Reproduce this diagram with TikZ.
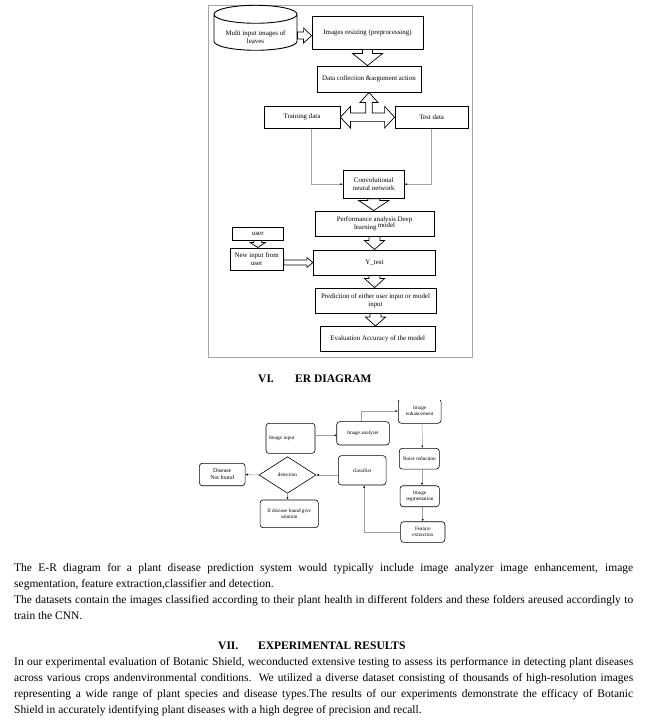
\documentclass[tikz,border=0pt]{standalone}
\usepackage{fontspec}
\setmainfont{Liberation Serif}
\usetikzlibrary{shapes.geometric,arrows.meta,calc}

\newcommand{\diagfont}{\fontsize{6.9}{8}\selectfont}
\newcommand{\erfont}{\fontsize{5.2}{6.2}\selectfont}
% hollow block arrow: from, to, shaft half width, head half width, head length
\newcommand{\blockarrow}[5]{%
  \draw[blockarr] let \p1=#1, \p2=#2, \n1={atan2(\y2-\y1,\x2-\x1)}, \n2={veclen(\x2-\x1,\y2-\y1)} in
    [shift={(\p1)}, rotate=\n1]
    (0,-#3) -- (\n2-#5,-#3) -- (\n2-#5,-#4) -- (\n2,0) -- (\n2-#5,#4) -- (\n2-#5,#3) -- (0,#3) -- cycle;}

\begin{document}
\begin{tikzpicture}[x=1pt,y=-1pt,
    box/.style={draw, line width=0.9pt, inner sep=1pt, align=center, font=\diagfont},
    erbox/.style={draw, rounded corners=3pt, line width=0.6pt, inner sep=1pt, align=center, font=\erfont},
    blockarr/.style={draw, fill=white, line width=0.7pt, line join=miter},
    thinarr/.style={draw=gray!70, line width=0.5pt, -{Latex[length=2.5pt,width=2pt,color=black]}},
    erarr/.style={draw=gray!75, line width=0.5pt, -{Latex[length=2.5pt,width=2pt,color=black]}},
    bodyline/.style={anchor=base west, inner sep=0pt, font={\fontsize{11.5}{13}\selectfont}},
    heading/.style={anchor=base west, inner sep=0pt, font={\fontsize{11.5}{13}\selectfont\bfseries}}]
\useasboundingbox (0,0) rectangle (653,722);
\fill[white] (0,0) rectangle (653,722);

% flow chart
\draw[gray!70, line width=0.6pt] (208.5,5) rectangle (472.5,357.5);
\node[cylinder, shape border rotate=90, aspect=0.3, draw, line width=0.9pt, inner sep=0pt,
      minimum width=83pt, minimum height=45pt, align=center, font=\diagfont] (leaves) at (255.5,32.5) {\phantom{Multi input images of}\\\phantom{leaves}};
\node[align=center, font=\diagfont, inner sep=0pt] (leavestext) at ($(leaves)+(0,4.5)$) {Multi input images of\\leaves};
\node[box, minimum width=111pt, minimum height=33pt] (resize) at (367.5,32.7) {Images resizing (preprocessing)};
\node[box, minimum width=104pt, minimum height=26pt] (datacol) at (369,79) {Data collection \&argument action};
\node[box, minimum width=76pt, minimum height=22.3pt] (train) at (302,117.2) {Training data};
\node[box, minimum width=73.3pt, minimum height=22.3pt] (test) at (431.7,117.2) {Test data};
\node[box, minimum width=60.7pt, minimum height=28.3pt] (cnn) at (373.7,184.2) {Convolutional\\neural network};
\node[box, minimum width=119pt, minimum height=25pt] (perf) at (374.5,223.5) {Performance analysis Deep\\learning\,\raisebox{1.5pt}{model}};
\node[box, minimum width=51pt, minimum height=13pt] (user) at (257.8,233.5) {user};
\node[box, minimum width=53.3pt, minimum height=22pt] (newin) at (256.7,259) {New input from\\user};
\node[box, minimum width=122.4pt, minimum height=25pt] (ytest) at (374.5,262.5) {Y\_test};
\node[box, minimum width=121pt, minimum height=25pt] (pred) at (375.5,300.5) {Prediction of either user input or model\\input};
\node[box, minimum width=115.7pt, minimum height=25pt] (eval) at (377.8,339) {Evaluation Accuracy of the model};

\blockarrow{($(leaves.east)+(0,3)$)}{($(resize.west)+(0,3)$)}{3.5}{7.5}{8}
\blockarrow{(resize.south)}{(resize.south |- datacol.north)}{5}{15}{12}
\draw[blockarr] let \p1=(train.east), \p2=(test.west), \p3=(datacol.south) in
  (\x1,\y1) -- (\x1+10pt,\y1+10.8pt) -- (\x1+10pt,\y1+4.2pt) -- (\x3-3.3pt,\y1+4.2pt)
  -- (\x3-3.3pt,\y3-10pt) -- (\x3-9pt,\y3-10pt) -- (\x3,\y3) -- (\x3+9pt,\y3-10pt)
  -- (\x3+3.3pt,\y3-10pt) -- (\x3+3.3pt,\y1+4.2pt) -- (\x2-10pt,\y1+4.2pt) -- (\x2-10pt,\y1+10.8pt)
  -- (\x2,\y1) -- (\x2-10pt,\y1-10.8pt) -- (\x2-10pt,\y1-4.2pt) -- (\x1+10pt,\y1-4.2pt)
  -- (\x1+10pt,\y1-10.8pt) -- cycle;
\draw[thinarr] ($(train.south)+(9,0)$) |- (cnn.west);
\draw[thinarr] (test.south) |- (cnn.east);
\blockarrow{(cnn.south)}{(cnn.south |- perf.north)}{6}{15}{10}
\blockarrow{(perf.south)}{(perf.south |- ytest.north)}{5.5}{10}{9}
\blockarrow{(ytest.south)}{(ytest.south |- pred.north)}{5.5}{10}{9}
\blockarrow{(pred.south)}{(pred.south |- eval.north)}{5.5}{10}{9}
\blockarrow{(user.south)}{(user.south |- newin.north)}{4}{7.5}{5}
\blockarrow{(newin.east |- ytest.west)}{(ytest.west)}{2.5}{5}{6}

% heading
\node[heading] (sec6num) at (258,382) {VI.};
\node[heading] (sec6) at (295,382) {ER DIAGRAM};

% er diagram
\node[erbox, minimum width=49pt, minimum height=30pt, text width=43pt, inner xsep=3pt, align=left] (imgin) at (290.5,438.3) {Image input};
\node[erbox, minimum width=52.6pt, minimum height=23.3pt] (analyzer) at (363,433.3) {Image analyzer};
\begin{scope}
  \clip (390,400.5) rectangle (450,430);
  \node[erbox, minimum width=42.7pt, minimum height=24.6pt] (enhance) at (419.7,411) {Image\\enhancement};
\end{scope}
\node[erbox, minimum width=40pt, minimum height=20.7pt] (noise) at (419.3,458.7) {Noise reduction};
\node[erbox, minimum width=39.3pt, minimum height=21pt] (seg) at (419.7,496.2) {Image\\segmentation};
\node[erbox, minimum width=44.3pt, minimum height=20.6pt] (feat) at (422.8,532) {Feature\\extraction};
\node[erbox, minimum width=47.7pt, minimum height=29.3pt] (classifier) at (362.2,470.3) {classifier};
\node[diamond, draw, line width=0.6pt, minimum width=57pt, minimum height=36.6pt, inner sep=0pt, font=\erfont] (detect) at (287.5,475) {detection};
\node[erbox, minimum width=45.7pt, minimum height=22.4pt, font={\fontsize{5.8}{6.8}\selectfont}] (nofound) at (222.2,474.5) {Disease\\Not found};
\node[erbox, minimum width=58.3pt, minimum height=27.7pt] (solution) at (289.2,513.8) {If disease found give\\solution};

\draw[erarr] (imgin.east |- analyzer.east) ++(0,2) -- ++(21.7,0);
\draw[erarr] ($(analyzer.north)+(-2,0)$) |- (enhance.west);
\draw[erarr] ($(enhance.south)+(2.5,0)$) -- ($(noise.north)+(3,0)$);
\draw[erarr] ($(noise.south)+(2.7,0)$) -- ($(seg.north)+(2.3,0)$);
\draw[erarr] ($(seg.south)+(3,0)$) -- ($(seg.south |- feat.north)+(3,0)$);
\draw[erarr] (feat.west) -| ($(classifier.south)+(2,0)$);
\draw[erarr] (classifier.west |- detect.east) -- (detect.east);
\draw[erarr] (detect.west) -- (nofound.east);
\draw[erarr] (detect.south) -- (detect.south |- solution.north);

% text
\node[bodyline] (erline1) at (14,571.5) {\makebox[619pt][s]{The E-R diagram for a plant disease prediction system would typically include image analyzer image enhancement, image}};
\node[bodyline] (erline2) at (14,587.5) {segmentation, feature extraction,classifier and detection.};
\node[bodyline] (erline3) at (14,603.5) {\makebox[619pt][s]{The datasets contain the images classified according to their plant health in different folders and these folders areused accordingly to}};
\node[bodyline] (erline4) at (14,619.5) {train the CNN.};

\node[heading] (sec7num) at (218,649) {VII.};
\node[heading] (sec7) at (258,649) {EXPERIMENTAL RESULTS};

\node[bodyline] (exline1) at (14,665.5) {\makebox[619pt][s]{In our experimental evaluation of Botanic Shield, weconducted extensive testing to assess its performance in detecting plant diseases}};
\node[bodyline] (exline2) at (14,681.5) {\makebox[619pt][s]{across various crops andenvironmental conditions. We utilized a diverse dataset consisting of thousands of high-resolution images}};
\node[bodyline] (exline3) at (14,697.5) {\makebox[619pt][s]{representing a wide range of plant species and disease types.The results of our experiments demonstrate the efficacy of Botanic}};
\node[bodyline] (exline4) at (14,713.5) {Shield in accurately identifying plant diseases with a high degree of precision and recall.};
\end{tikzpicture}
\end{document}
